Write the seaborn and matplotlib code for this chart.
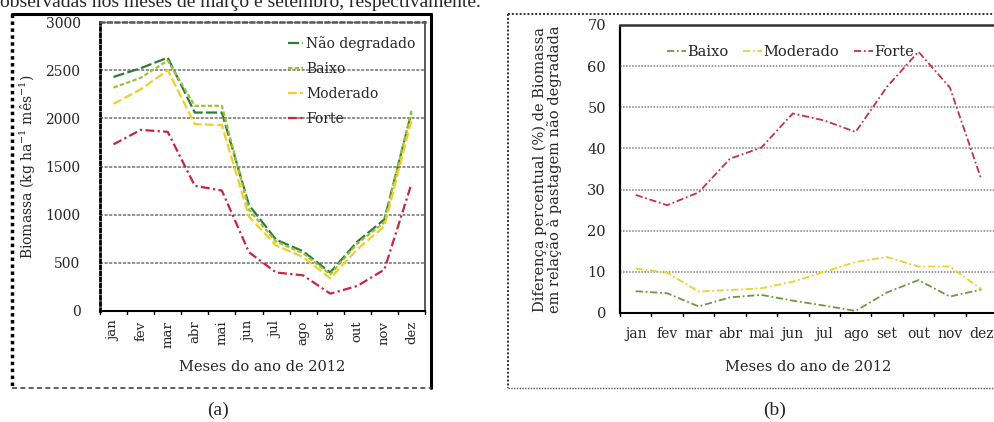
import pandas as pd
import matplotlib.pyplot as plt
import seaborn as sns
from matplotlib.lines import Line2D
from matplotlib.ticker import MultipleLocator

months = ['jan', 'fev', 'mar', 'abr', 'mai', 'jun', 'jul', 'ago', 'set', 'out', 'nov', 'dez']

# (a) biomassa, kg ha-1 mes-1
nao_degradado = [2430, 2520, 2630, 2060, 2060, 1100, 740, 620, 400, 720, 950, 2060]
baixo = [2320, 2420, 2600, 2130, 2130, 1050, 720, 600, 380, 700, 920, 2080]
moderado = [2150, 2300, 2500, 1940, 1930, 980, 680, 560, 340, 640, 880, 1980]
forte = [1730, 1880, 1860, 1300, 1250, 610, 400, 370, 180, 260, 430, 1320]

# (b) diferenca percentual em relacao a pastagem nao degradada
baixo_dif = [5.3, 4.8, 1.6, 3.8, 4.4, 3.0, 1.8, 0.5, 5.0, 8.0, 4.0, 5.7]
moderado_dif = [10.8, 9.8, 5.2, 5.6, 6.0, 7.6, 10.0, 12.4, 13.6, 11.3, 11.3, 5.8]
forte_dif = [28.7, 26.2, 29.3, 37.5, 40.2, 48.5, 46.8, 44.0, 55.0, 63.5, 54.8, 32.5]

df_a = pd.DataFrame({'mes': range(12), 'Não degradado': nao_degradado, 'Baixo': baixo,
                     'Moderado': moderado, 'Forte': forte})
df_a = df_a.melt(id_vars='mes', var_name='nivel', value_name='valor')
df_b = pd.DataFrame({'mes': range(12), 'Baixo': baixo_dif, 'Moderado': moderado_dif,
                     'Forte': forte_dif})
df_b = df_b.melt(id_vars='mes', var_name='nivel', value_name='valor')

sns.set_theme(style='white')
plt.rcParams['font.family'] = ['DejaVu Serif']
plt.rcParams['mathtext.fontset'] = 'dejavuserif'

W, H = 995, 422
fig = plt.figure(figsize=(W / 100, H / 100), dpi=100)


def fx(px):
    return px / W


def fy(py):
    return 1 - py / H


def frame_line(x0, y0, x1, y1, **kw):
    fig.add_artist(Line2D([fx(x0), fx(x1)], [fy(y0), fy(y1)], transform=fig.transFigure, **kw))


# text line of the page above the figures (cut by the image edge, as in the scan)
fig.text(0.0, fy(7), 'observadas nos meses de março e setembro, respectivamente.',
         fontsize=14, va='baseline', ha='left', family='Liberation Serif')

# outer frames
frame_line(12, 14, 431, 14, color='black', lw=2.2)
frame_line(431, 14, 431, 388, color='black', lw=2.2)
frame_line(12, 14, 12, 388, color='black', lw=2.5, linestyle=(0, (1, 1)))
frame_line(12, 388, 431, 388, color='#444444', lw=1.2, linestyle=(0, (3, 2)))
frame_line(508, 14, 995, 14, color='#333333', lw=1.4, linestyle=(0, (1, 1)))
frame_line(508, 14, 508, 388, color='#333333', lw=1.4, linestyle=(0, (1, 1)))
frame_line(508, 388, 995, 388, color='#555555', lw=1.0, linestyle=(0, (1, 1)))

# ---------- (a) ----------
ax1 = fig.add_axes([fx(100), fy(311), fx(425) - fx(100), fy(22) - fy(311)])
pal_a = {'Não degradado': '#2f7a35', 'Baixo': '#9cc23a', 'Moderado': '#f0cf2a', 'Forte': '#c3283f'}
sns.lineplot(data=df_a, x='mes', y='valor', hue='nivel', palette=pal_a, ax=ax1,
             style='nivel', dashes={'Não degradado': (5, 1.5), 'Baixo': (2, 1),
                                    'Moderado': (4, 1.5), 'Forte': (4, 1.5, 1, 1.5)},
             linewidth=1.6)
ax1.set_xlim(-0.5, 11.5)
ax1.set_ylim(0, 3000)
ax1.yaxis.set_major_locator(MultipleLocator(500))
ax1.set_xticks(range(12))
ax1.set_xticklabels(months, rotation=90, fontsize=9.5)
ax1.tick_params(axis='y', labelsize=10, length=0, pad=14)
ax1.tick_params(axis='x', length=0, pad=7)
for m in [i + 0.5 for i in range(-1, 12)]:
    ax1.axvline(m, ymin=-0.012, ymax=0.0, color='black', lw=1, clip_on=False)
ax1.grid(axis='y', color='#707070', lw=1.1, linestyle=(0, (2, 1)))
ax1.spines['left'].set_linestyle((0, (1, 1.2)))
ax1.spines['left'].set_linewidth(2.0)
ax1.spines['top'].set_linestyle((0, (1.5, 1.5)))
ax1.spines['top'].set_linewidth(1.8)
ax1.spines['top'].set_color('#555555')
ax1.spines['right'].set_linestyle((0, (3, 1)))
ax1.spines['right'].set_color('#444444')
ax1.spines['bottom'].set_linewidth(1.5)
ax1.spines['bottom'].set_color('black')
ax1.spines['left'].set_color('black')
ax1.set_xlabel('Meses do ano de 2012', fontsize=10.5, labelpad=9)
ax1.set_ylabel('Biomassa (kg ha$^{-1}$ mês$^{-1}$)', fontsize=10)
ax1.yaxis.set_label_coords(-0.19, 0.5)
ax1.legend(loc='upper right', frameon=False, fontsize=10, handlelength=1.1,
           handletextpad=0.2, labelspacing=0.8, borderaxespad=0.3,
           bbox_to_anchor=(1.0, 0.985))

# ---------- (b) ----------
ax2 = fig.add_axes([fx(620), fy(313), fx(997) - fx(620), fy(25) - fy(313)])
pal_b = {'Baixo': '#6b9a3c', 'Moderado': '#e8d22f', 'Forte': '#c2334a'}
sns.lineplot(data=df_b, x='mes', y='valor', hue='nivel', palette=pal_b, ax=ax2,
             style='nivel', dashes={'Baixo': (4, 1.5, 1, 1.5), 'Moderado': (4, 1.5, 1, 1.5),
                                    'Forte': (4, 1.5, 1, 1.5)},
             linewidth=1.3)
ax2.set_xlim(-0.5, 11.5)
ax2.set_ylim(0, 70)
ax2.yaxis.set_major_locator(MultipleLocator(10))
ax2.set_xticks(range(12))
ax2.set_xticklabels(months, fontsize=10)
ax2.tick_params(axis='y', labelsize=10.5, length=0, pad=10)
ax2.tick_params(axis='x', length=0, pad=10)
for m in [i + 0.5 for i in range(-1, 12)]:
    ax2.axvline(m, ymin=-0.012, ymax=0.0, color='black', lw=1, clip_on=False)
ax2.grid(axis='y', color='#808080', lw=1.1, linestyle=(0, (1, 1)))
ax2.spines['left'].set_linestyle((0, (1, 1)))
ax2.spines['left'].set_linewidth(1.6)
ax2.spines['top'].set_linewidth(1.8)
ax2.spines['top'].set_color('#333333')
ax2.spines['right'].set_visible(False)
ax2.spines['bottom'].set_linewidth(1.5)
ax2.spines['bottom'].set_color('black')
ax2.spines['left'].set_color('black')
ax2.set_xlabel('Meses do ano de 2012', fontsize=10.5, labelpad=14)
ax2.set_ylabel('Diferença percentual (%) de Biomassa\nem relação à pastagem não degradada',
               fontsize=10.5, linespacing=0.95)
ax2.yaxis.set_label_coords(-0.155, 0.5)
ax2.legend(loc='upper left', frameon=False, fontsize=10.5, ncol=3, handlelength=1.3,
           handletextpad=0.1, columnspacing=1.0, bbox_to_anchor=(0.09, 0.975))

# captions
fig.text(fx(218), fy(410), '(a)', fontsize=14, ha='center', va='center', family='Liberation Serif')
fig.text(fx(775), fy(410), '(b)', fontsize=14, ha='center', va='center', family='Liberation Serif')

fig.savefig('out.png', dpi=100)
